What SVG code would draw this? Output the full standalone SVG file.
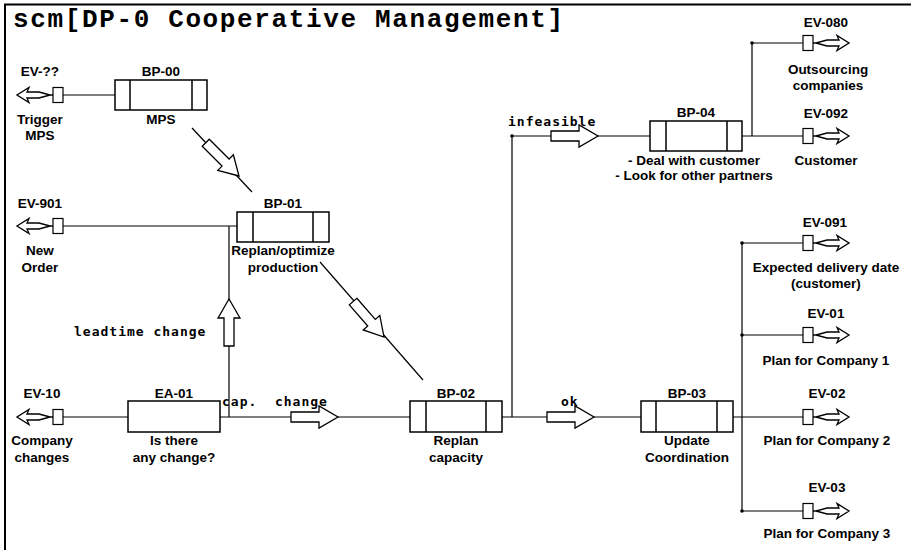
<svg xmlns="http://www.w3.org/2000/svg" xmlns:xlink="http://www.w3.org/1999/xlink" width="911" height="550" viewBox="0 0 911 550">
<style>
  .frame{fill:none;stroke:#000;stroke-width:2}
  .box{fill:#fff;stroke:#000;stroke-width:1.5}
  .inner{stroke:#000;stroke-width:1.5}
  .ln{fill:none;stroke:#000;stroke-width:1.2}
  .ev{fill:#fff;stroke:#000;stroke-width:1.2}
  .arr{fill:#fff;stroke:#000;stroke-width:1.3;stroke-linejoin:miter}
  .lbl{font-family:"Liberation Sans",Arial,sans-serif;font-weight:bold;font-size:13.5px;text-anchor:middle;fill:#000}
  .mono{font-family:"DejaVu Sans Mono","Liberation Mono",monospace;font-weight:bold;font-size:13px;letter-spacing:1px;fill:#000}
  .title{font-family:"Liberation Mono","Courier New",monospace;font-weight:bold;font-size:26px;fill:#000}
  .dot{fill:#000}
</style>
<defs>
  <path id="big" class="arr" d="M-47,-5 H-19 V-11 L0,0 L-19,11 V5 H-47 Z"/>
  <path id="evr" class="arr" d="M0,0 H3 L14,-3 L26,-3 L24,-7.5 L36,0 L24,7.5 L26,3 L14,3 L3,0"/>
</defs>
<rect width="911" height="550" fill="#fff"/>
<path class="frame" d="M5,552 V4.5 H913"/>
<text class="title" x="13" y="27" textLength="550" lengthAdjust="spacing">scm[DP-0 Cooperative Management]</text>

<g id="connectors">
  <path class="ln" d="M63,95 H115"/>
  <path class="ln" d="M192,128 L252,192"/>
  <use href="#big" transform="translate(239,176) rotate(45)"/>
  <path class="ln" d="M63,226 H237"/>
  <path class="ln" d="M229,417 V226"/>
  <use href="#big" transform="translate(229,299) rotate(-90)"/>
  <path class="ln" d="M63,417 H128"/>
  <path class="ln" d="M220,417 H410"/>
  <use href="#big" transform="translate(338,417)"/>
  <path class="ln" d="M320,262 L423,380"/>
  <use href="#big" transform="translate(384,337) rotate(48.9)"/>
  <path class="ln" d="M502,417 H641"/>
  <use href="#big" transform="translate(594,417)"/>
  <path class="ln" d="M512,417 V136 H650"/>
  <use href="#big" transform="translate(598,136)"/>
  <path class="ln" d="M742,136 H803"/>
  <path class="ln" d="M752,136 V43 H803"/>
  <path class="ln" d="M733,417 H803"/>
  <path class="ln" d="M742,243 V511"/>
  <path class="ln" d="M742,243 H803 M742,335 H803 M742,511 H803"/>
  <circle class="dot" cx="512" cy="136" r="1.8"/>
  <circle class="dot" cx="752" cy="43" r="1.8"/>
  <circle class="dot" cx="742" cy="243" r="1.8"/>
  <circle class="dot" cx="742" cy="335" r="1.8"/>
  <circle class="dot" cx="742" cy="511" r="1.8"/>
  <text class="mono" x="74" y="336">leadtime change</text>
  <text class="mono" x="222" y="406" xml:space="preserve">cap.  change</text>
  <text class="mono" x="561" y="406">ok</text>
  <text class="mono" x="508" y="126">infeasible</text>
</g>

<g id="BP-00">
  <rect class="box" x="115" y="80" width="92" height="30"/>
  <path class="inner" d="M130,80 V110 M192,80 V110"/>
  <text class="lbl" x="161" y="76">BP-00</text>
  <text class="lbl" x="161" y="124">MPS</text>
</g>
<g id="BP-01">
  <rect class="box" x="237" y="212" width="92" height="30"/>
  <path class="inner" d="M253,212 V242 M313,212 V242"/>
  <text class="lbl" x="283" y="208">BP-01</text>
  <text class="lbl" x="283" y="255">Replan/optimize</text>
  <text class="lbl" x="283" y="272">production</text>
</g>
<g id="EA-01">
  <rect class="box" x="128" y="401" width="92" height="31"/>
  <text class="lbl" x="174" y="398">EA-01</text>
  <text class="lbl" x="174" y="445">Is there</text>
  <text class="lbl" x="174" y="462">any change?</text>
</g>
<g id="BP-02">
  <rect class="box" x="410" y="401" width="92" height="31"/>
  <path class="inner" d="M426,401 V432 M486,401 V432"/>
  <text class="lbl" x="456" y="398">BP-02</text>
  <text class="lbl" x="456" y="445">Replan</text>
  <text class="lbl" x="456" y="462">capacity</text>
</g>
<g id="BP-03">
  <rect class="box" x="641" y="401" width="92" height="31"/>
  <path class="inner" d="M656,401 V432 M717,401 V432"/>
  <text class="lbl" x="687" y="398">BP-03</text>
  <text class="lbl" x="687" y="445">Update</text>
  <text class="lbl" x="687" y="462">Coordination</text>
</g>
<g id="BP-04">
  <rect class="box" x="650" y="121" width="92" height="30"/>
  <path class="inner" d="M666,121 V151 M727,121 V151"/>
  <text class="lbl" x="696" y="117">BP-04</text>
  <text class="lbl" x="694" y="165">- Deal with customer</text>
  <text class="lbl" x="694" y="180">- Look for other partners</text>
</g>

<g id="EV-trigger">
  <use href="#evr" transform="translate(53,95) scale(-1,1)"/>
  <rect class="ev" x="53" y="87.5" width="10" height="15"/>
  <text class="lbl" x="40" y="76">EV-??</text>
  <text class="lbl" x="40" y="124">Trigger</text>
  <text class="lbl" x="40" y="140">MPS</text>
</g>
<g id="EV-901">
  <use href="#evr" transform="translate(53,226) scale(-1,1)"/>
  <rect class="ev" x="53" y="218.5" width="10" height="15"/>
  <text class="lbl" x="40" y="208">EV-901</text>
  <text class="lbl" x="40" y="255">New</text>
  <text class="lbl" x="40" y="272">Order</text>
</g>
<g id="EV-10">
  <use href="#evr" transform="translate(53,417) scale(-1,1)"/>
  <rect class="ev" x="53" y="409.5" width="10" height="15"/>
  <text class="lbl" x="42" y="398">EV-10</text>
  <text class="lbl" x="42" y="445">Company</text>
  <text class="lbl" x="42" y="462">changes</text>
</g>
<g id="EV-080">
  <use href="#evr" transform="translate(813,43)"/>
  <rect class="ev" x="803" y="35.5" width="10" height="15"/>
  <text class="lbl" x="826" y="27">EV-080</text>
  <text class="lbl" x="828" y="74">Outsourcing</text>
  <text class="lbl" x="828" y="90">companies</text>
</g>
<g id="EV-092">
  <use href="#evr" transform="translate(813,136)"/>
  <rect class="ev" x="803" y="128.5" width="10" height="15"/>
  <text class="lbl" x="826" y="118">EV-092</text>
  <text class="lbl" x="826" y="165">Customer</text>
</g>
<g id="EV-091">
  <use href="#evr" transform="translate(813,243)"/>
  <rect class="ev" x="803" y="235.5" width="10" height="15"/>
  <text class="lbl" x="825" y="227">EV-091</text>
  <text class="lbl" x="826" y="272">Expected delivery date</text>
  <text class="lbl" x="826" y="288">(customer)</text>
</g>
<g id="EV-01">
  <use href="#evr" transform="translate(813,335)"/>
  <rect class="ev" x="803" y="327.5" width="10" height="15"/>
  <text class="lbl" x="826" y="318">EV-01</text>
  <text class="lbl" x="826" y="365">Plan for Company 1</text>
</g>
<g id="EV-02">
  <use href="#evr" transform="translate(813,417)"/>
  <rect class="ev" x="803" y="409.5" width="10" height="15"/>
  <text class="lbl" x="827" y="398">EV-02</text>
  <text class="lbl" x="827" y="445">Plan for Company 2</text>
</g>
<g id="EV-03">
  <use href="#evr" transform="translate(813,511)"/>
  <rect class="ev" x="803" y="503.5" width="10" height="15"/>
  <text class="lbl" x="827" y="492">EV-03</text>
  <text class="lbl" x="827" y="538">Plan for Company 3</text>
</g>
</svg>
